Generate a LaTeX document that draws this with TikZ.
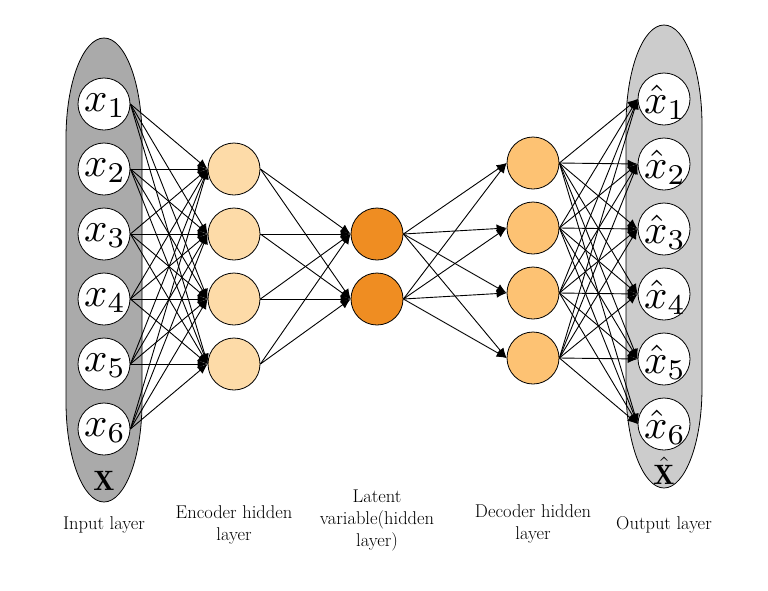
\documentclass[tikz,border=0pt]{standalone}
\usepackage{fontspec}
\usetikzlibrary{arrows.meta}
\definecolor{encc}{HTML}{FDDBA8}
\definecolor{latc}{HTML}{EF8D22}
\definecolor{decc}{HTML}{FDC273}
\definecolor{ingray}{HTML}{AAAAAA}
\definecolor{outgray}{HTML}{CCCCCC}
\newcommand{\xs}[1]{\scalebox{4.1}{$x_{#1}$}}
\newcommand{\xh}[1]{\scalebox{4.1}{$\hat{x}_{#1}$}}
\begin{document}
\begin{tikzpicture}[x=1pt,y=-1pt,
  unit/.style={circle,draw,line width=0.8pt,minimum size=52pt,inner sep=0pt},
  io/.style={unit,fill=white},
  enc/.style={unit,fill=encc},
  lat/.style={unit,fill=latc},
  dec/.style={unit,fill=decc},
  inner label/.style={inner sep=0pt,xshift=1pt},
  layerbox/.style={draw,line width=0.8pt},
  conn/.style={-{Latex[length=10pt,width=8.5pt]},line width=0.9pt},
  lbl/.style={align=center,font=\fontsize{18.5}{22}\selectfont},
  bigx/.style={inner sep=0pt,anchor=base}]
\useasboundingbox (0,0) rectangle (768,590);
% layer shapes (straight sides, elliptic caps)
\draw[layerbox,fill=ingray] (142,138) -- (142,402)
  arc[start angle=0,end angle=-180,x radius=38pt,y radius=100pt]
  -- (66,138) arc[start angle=180,end angle=0,x radius=38pt,y radius=100pt] -- cycle;
\draw[layerbox,fill=outgray] (702,125) -- (702,388)
  arc[start angle=0,end angle=-180,x radius=38pt,y radius=100pt]
  -- (626,125) arc[start angle=180,end angle=0,x radius=38pt,y radius=100pt] -- cycle;
% input and output units
\foreach \i in {1,...,6}{
  \node[io,label={[inner label,yshift=-2pt]center:\xs{\i}}] (in\i) at (104,{104+65*(\i-1)}) {};
  \node[io,label={[inner label,yshift=-3pt]center:\xh{\i}}] (out\i) at (664,{99+65*(\i-1)}) {};
}
% hidden units
\foreach \j in {1,...,4}{
  \node[enc] (en\j) at (234,{169+65*(\j-1)}) {};
  \node[dec] (de\j) at (533,{163+65*(\j-1)}) {};
}
\node[lat] (la1) at (377,234) {};
\node[lat] (la2) at (377,299) {};
% vector symbols
\node[bigx] (xin) at (104,490) {\scalebox{2.8}{$\mathbf{X}$}};
\node[bigx] (xout) at (664,484) {\scalebox{2.8}{$\hat{\mathbf{X}}$}};
% connections
\foreach \i in {1,...,6}{\foreach \j in {1,...,4}{
  \draw[conn] (in\i.east) -- (en\j.west);
  \draw[conn] (de\j.east) -- (out\i.west);
}}
\foreach \j in {1,...,4}{\foreach \k in {1,2}{
  \draw[conn] (en\j.east) -- (la\k.west);
  \draw[conn] (la\k.east) -- (de\j.west);
}}
% labels
\node[lbl] (linput) at (104,525) {Input layer};
\node[lbl] (lenc) at (234,525) {Encoder hidden\\layer};
\node[lbl] (llat) at (377,520) {Latent\\variable(hidden\\layer)};
\node[lbl] (ldec) at (533,524) {Decoder hidden\\layer};
\node[lbl] (lout) at (664,525) {Output layer};
\end{tikzpicture}
\end{document}
